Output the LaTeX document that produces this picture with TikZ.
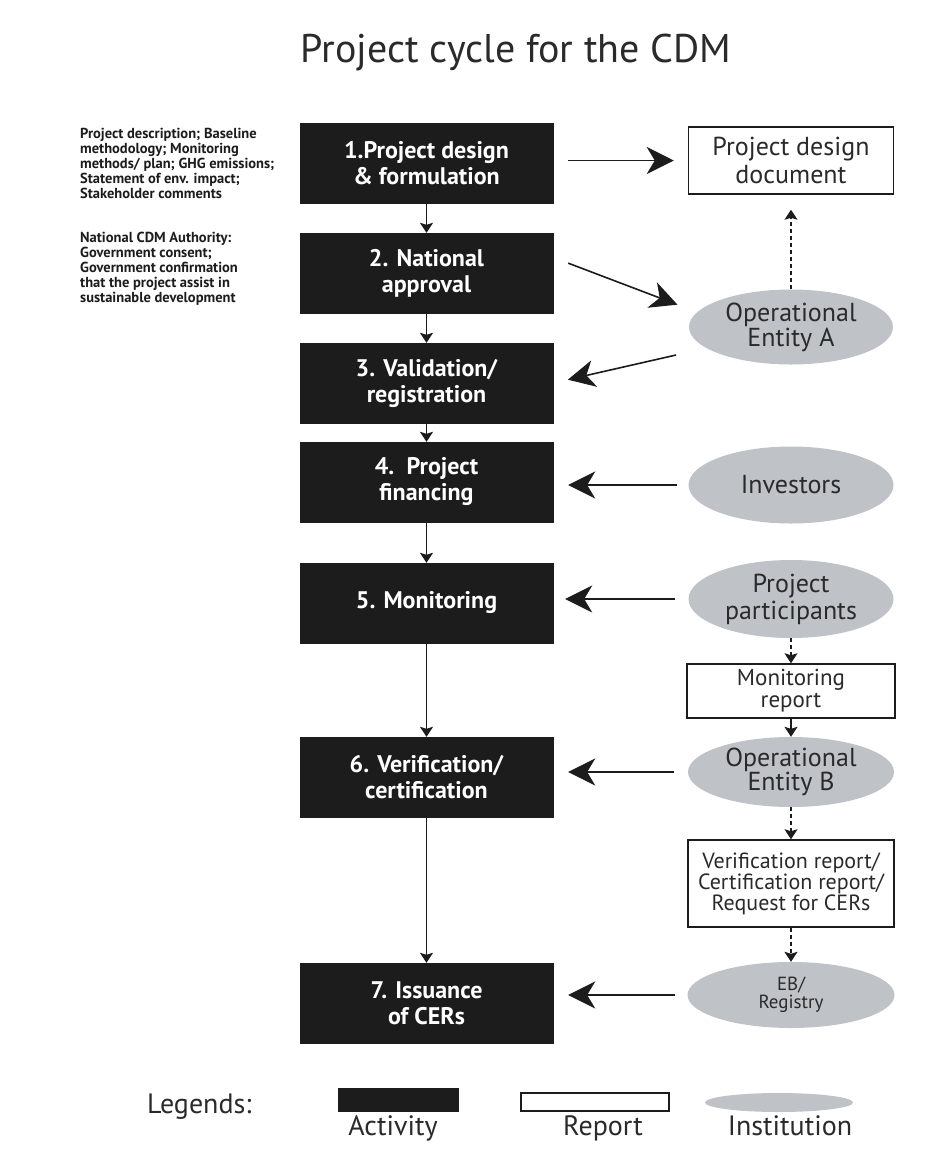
\documentclass[tikz,border=0pt]{standalone}
\usepackage{fontspec}
\setmainfont{PT Sans}
\usepackage{xcolor}
\usetikzlibrary{arrows.meta,positioning,shapes.geometric}
\definecolor{actblack}{HTML}{1C1C1C}
\definecolor{instgray}{HTML}{BFC3C8}
\definecolor{txtgray}{HTML}{2A2A2A}

\begin{document}
\begin{tikzpicture}[x=1pt, y=-1pt,
  act/.style={fill=actblack, draw=actblack, minimum width=253pt, minimum height=80pt, inner sep=0pt, align=center, text=white, font=\fontsize{24}{26}\selectfont\bfseries},
  rep/.style={draw=actblack, line width=1.5pt, fill=white, inner sep=0pt, align=center, text=txtgray},
  inst/.style={ellipse, fill=instgray, inner sep=0pt, align=center, text=txtgray},
  big/.style={-{Stealth[length=27pt, width=27pt, inset=8pt]}, line width=1.6pt, actblack},
  sm/.style={-{Stealth[length=10pt, width=13pt, inset=2pt]}, line width=1.3pt, actblack},
  dsh/.style={sm, dash pattern=on 4pt off 3pt},
  note/.style={anchor=north west, inner sep=0pt, align=left, text=actblack, font=\fontsize{14.5}{15}\selectfont\bfseries},
  lg/.style={anchor=base, inner sep=0pt, text=txtgray, font=\fontsize{28}{30}\selectfont}
]
\fill[white] (0,0) rectangle (944,1171);
\useasboundingbox (0,0) rectangle (944,1171);

\node[lg] (title) at (516,62) {\fontsize{40}{44}\selectfont Project cycle for the CDM};

\node[act] (A1) at (426.5,163) {1.Project design\\\& formulation};
\node[act] (A2) at (426.5,273) {2. National\\approval};
\node[act] (A3) at (426.5,383) {3. Validation/\\registration};
\node[act] (A4) at (426.5,482) {4.\ \ Project\\financing};
\node[act] (A5) at (426.5,603) {5. Monitoring};
\node[act] (A6) at (426.5,777) {6. Verification/\\certification};
\node[act] (A7) at (426.5,1003) {7. Issuance\\of CERs};

\node[note] (N1) at (80,128) {Project description; Baseline\\methodology; Monitoring\\methods/ plan; GHG emissions;\\Statement of env. impact;\\Stakeholder comments};
\node[note] (N2) at (80,232) {National CDM Authority:\\Government consent;\\Government confirmation\\that the project assist in\\sustainable development};

\node[rep, minimum width=205pt, minimum height=67pt, font=\fontsize{26}{28}\selectfont] (PDD) at (791,160.5) {Project design\\document};
\node[inst, minimum width=204pt, minimum height=75pt, font=\fontsize{26}{25}\selectfont] (OEA) at (791,327) {Operational\\Entity A};
\node[inst, minimum width=205pt, minimum height=77pt, font=\fontsize{26}{28}\selectfont] (INV) at (791,485) {Investors};
\node[inst, minimum width=205pt, minimum height=78pt, font=\fontsize{26}{27}\selectfont] (PP) at (791,599) {Project\\participants};
\node[rep, minimum width=208pt, minimum height=54pt, font=\fontsize{23}{22}\selectfont] (MR) at (791,691) {Monitoring\\report};
\node[inst, minimum width=206pt, minimum height=70pt, font=\fontsize{26}{24}\selectfont] (OEB) at (791,772) {Operational\\Entity B};
\node[rep, minimum width=206pt, minimum height=87pt, font=\fontsize{22}{19}\selectfont] (VR) at (791,883.5) {Verification report/\\Certification report/\\Request for CERs};
\node[inst, minimum width=207pt, minimum height=66pt, font=\fontsize{19}{18}\selectfont] (EB) at (791,995) {EB/\\Registry};

\draw[sm] (A1) -- (A2);
\draw[sm] (A2) -- (A3);
\draw[sm] (A3) -- (A4);
\draw[sm] (A4) -- (A5);
\draw[sm] (A5) -- (A6);
\draw[sm] (A6) -- (A7);

\draw[big, shorten <=15pt, shorten >=14pt] (A1.east |- PDD.west) -- (PDD.west);
\draw[big, shorten <=16pt, shorten >=21pt] (A2.7) -- (OEA.171);
\draw[big, shorten <=31pt, shorten >=15pt] (OEA.194) -- (A3.east);
\draw[big, shorten <=11pt, shorten >=15pt] (INV.west) -- (INV.west -| A4.east);
\draw[big, shorten <=13pt, shorten >=12pt] (PP.west) -- (PP.west -| A5.east);
\draw[big, shorten <=14pt, shorten >=15pt] (OEB.west) -- (OEB.west -| A6.east);
\draw[big, shorten <=12pt, shorten >=15pt] (EB.west) -- (EB.west -| A7.east);

\draw[dsh, shorten >=15pt] (OEA.north) -- (PDD.south);
\draw[dsh] (PP.south) -- (MR.north);
\draw[sm] (MR.south) -- (OEB.north);
\draw[dsh] (OEB.south) -- (VR.north);
\draw[dsh] (VR.south) -- (EB.north);

\node[lg, anchor=base west] (leg) at (147,1113) {Legends:};
\node[act, minimum width=120pt, minimum height=23pt] (LA) at (398,1099.5) {};
\node[rep, minimum width=148pt, minimum height=18pt] (LR) at (595,1102) {};
\node[inst, minimum width=148pt, minimum height=19pt] (LI) at (779,1102.5) {};
\node[lg] (LAt) at (393,1135) {Activity};
\node[lg] (LRt) at (603,1135) {Report};
\node[lg] (LIt) at (790,1135) {Institution};
\end{tikzpicture}
\end{document}
